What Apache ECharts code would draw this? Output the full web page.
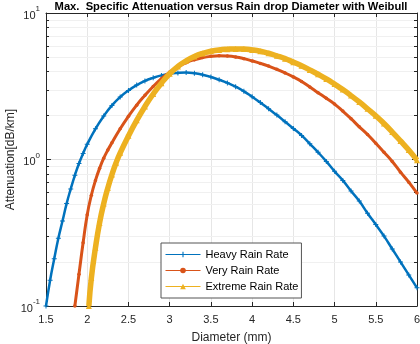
<!DOCTYPE html>
<html>
<head>
<meta charset="utf-8">
<script src="https://cdn.jsdelivr.net/npm/echarts@6/dist/echarts.min.js"></script>
<style>
  html, body { margin: 0; padding: 0; background: #fff; }
  #container { width: 420px; height: 344px; }
</style>
</head>
<body>
<div id="container"></div>
<script>
// diameters (mm) and attenuation (dB/km)
const dHeavy = [1.5, 1.55, 1.6, 1.65, 1.7, 1.75, 1.8, 1.85, 1.9, 1.95, 2.0,
  2.1, 2.2, 2.3, 2.4, 2.5, 2.6, 2.7, 2.8, 2.9, 3.0, 3.1, 3.2, 3.3, 3.4, 3.5,
  3.6, 3.7, 3.8, 3.9, 4.0, 4.1, 4.2, 4.3, 4.4, 4.5, 4.6, 4.7, 4.8, 4.9, 5.0,
  5.1, 5.2, 5.3, 5.4, 5.5, 5.6, 5.7, 5.8, 5.9, 6.0];
const heavyRain = [0.10, 0.15, 0.21, 0.29, 0.38, 0.50, 0.63, 0.78, 0.94, 1.10, 1.27,
  1.62, 1.98, 2.34, 2.67, 2.96, 3.22, 3.44, 3.61, 3.75, 3.85, 3.90, 3.92, 3.88, 3.79, 3.66,
  3.50, 3.33, 3.14, 2.92, 2.68, 2.45, 2.22, 2.01, 1.81, 1.63, 1.46, 1.28, 1.12, 0.97, 0.83,
  0.72, 0.61, 0.52, 0.43, 0.36, 0.30, 0.245, 0.20, 0.163, 0.133];

const dVery = [1.85, 1.9, 1.95, 2.0, 2.05, 2.1, 2.15, 2.2, 2.25, 2.3,
  2.4, 2.5, 2.6, 2.7, 2.8, 2.9, 3.0, 3.1, 3.2, 3.3, 3.4, 3.5,
  3.6, 3.7, 3.8, 3.9, 4.0, 4.1, 4.2, 4.3, 4.4, 4.5, 4.6, 4.7, 4.8, 4.9, 5.0,
  5.1, 5.2, 5.3, 5.4, 5.5, 5.6, 5.7, 5.8, 5.9, 6.0];
const veryRain = [0.10, 0.165, 0.27, 0.42, 0.57, 0.72, 0.87, 1.02, 1.16, 1.30,
  1.62, 1.97, 2.35, 2.74, 3.15, 3.56, 3.95, 4.28, 4.58, 4.80, 4.96, 5.06,
  5.10, 5.08, 5.01, 4.88, 4.71, 4.53, 4.34, 4.13, 3.90, 3.66, 3.41, 3.13, 2.86, 2.62, 2.39,
  2.14, 1.90, 1.67, 1.48, 1.29, 1.12, 0.97, 0.82, 0.70, 0.59];

const dExtreme = [2.02, 2.05, 2.1, 2.15, 2.2, 2.25, 2.3, 2.35,
  2.4, 2.5, 2.6, 2.7, 2.8, 2.9, 3.0, 3.1, 3.2, 3.3, 3.4, 3.5,
  3.6, 3.7, 3.8, 3.9, 4.0, 4.1, 4.2, 4.3, 4.4, 4.5, 4.6, 4.7, 4.8, 4.9, 5.0,
  5.1, 5.2, 5.3, 5.4, 5.5, 5.6, 5.7, 5.8, 5.9, 6.0];
const extremeRain = [0.10, 0.155, 0.25, 0.37, 0.50, 0.64, 0.79, 0.95,
  1.11, 1.45, 1.85, 2.30, 2.80, 3.32, 3.85, 4.32, 4.72, 5.05, 5.30, 5.48,
  5.60, 5.66, 5.69, 5.68, 5.60, 5.48, 5.31, 5.10, 4.88, 4.62, 4.36, 4.09, 3.82, 3.55, 3.27,
  3.00, 2.73, 2.47, 2.22, 1.99, 1.76, 1.54, 1.34, 1.16, 0.99];

const seriesNames = ["Heavy Rain Rate", "Very Rain Rate", "Extreme Rain Rate"];
const minorTicks = [0.2, 0.3, 0.4, 0.5, 0.6, 0.7, 0.8, 0.9, 2, 3, 4, 5, 6, 7, 8, 9];

const xMin = 1.5, xMax = 6;
const font = "Liberation Sans, Arial, sans-serif";
const axisColor = "#262626";

const pairs = (xs, ys) => xs.map((x, i) => [x, ys[i]]);

let dom = document.getElementById("container");
let myChart = echarts.init(dom, null, { renderer: "canvas" });

const expLabel = (v) => "{b|10}{s|" + Math.round(Math.log10(v)) + "}";
const expRich = {
  b: { fontSize: 11, fontFamily: font, color: axisColor, lineHeight: 16, verticalAlign: "bottom" },
  s: { fontSize: 8, fontFamily: font, color: axisColor, lineHeight: 16, verticalAlign: "top", padding: [0, 0, 6, 0] },
};

let option = {
  animation: false,
  backgroundColor: "#fff",
  title: {
    text: "Max.  Specific Attenuation versus Rain drop Diameter with Weibull",
    left: 231,
    textAlign: "center",
    top: 0,
    padding: [1, 0, 0, 0],
    textStyle: { fontFamily: font, fontSize: 11.2, fontWeight: "bold", color: "#000" },
  },
  legend: {
    data: seriesNames,
    orient: "vertical",
    left: 161,
    top: 243,
    itemWidth: 35,
    itemHeight: 7,
    itemGap: 5,
    padding: [6, 3, 6, 4],
    backgroundColor: "#fff",
    borderColor: "#555",
    borderWidth: 1,
    borderRadius: 0,
    textStyle: { fontFamily: font, fontSize: 11, color: "#000", lineHeight: 11 },
    lineStyle: { width: 1 },
  },
  grid: { left: 46, right: 3, top: 13, bottom: 38, containLabel: false, outerBoundsMode: "none" },
  xAxis: [
    {
      type: "value",
      min: xMin,
      max: xMax,
      interval: 0.5,
      name: "Diameter (mm)",
      nameLocation: "middle",
      nameGap: 26,
      nameMoveOverlap: false,
      nameTextStyle: { fontFamily: font, fontSize: 12, color: axisColor },
      axisLine: { lineStyle: { color: axisColor } },
      axisTick: { inside: true, length: 4, lineStyle: { color: axisColor } },
      axisLabel: { fontFamily: font, fontSize: 11, color: axisColor, margin: 8 },
      splitLine: { show: true, lineStyle: { color: "#e6e6e6" } },
    },
    {
      type: "value",
      position: "top",
      min: xMin,
      max: xMax,
      interval: 0.5,
      axisLine: { lineStyle: { color: axisColor } },
      axisTick: { inside: true, length: 4, lineStyle: { color: axisColor } },
      axisLabel: { show: false },
      splitLine: { show: false },
    },
  ],
  yAxis: [
    {
      type: "log",
      logBase: 10,
      min: 0.1,
      max: 10,
      name: "Attenuation[dB/km]",
      nameLocation: "middle",
      nameGap: 29,
      nameMoveOverlap: false,
      nameTextStyle: { fontFamily: font, fontSize: 12, color: axisColor },
      axisLine: { show: true, lineStyle: { color: axisColor } },
      axisTick: { inside: true, length: 5, lineStyle: { color: axisColor } },
      axisLabel: { formatter: expLabel, rich: expRich, margin: 6 },
      splitLine: { show: true, lineStyle: { color: "#e0e0e0" } },
    },
    {
      type: "log",
      logBase: 10,
      min: 0.1,
      max: 10,
      position: "right",
      axisLine: { show: true, lineStyle: { color: axisColor } },
      axisTick: { inside: true, length: 5, lineStyle: { color: axisColor } },
      axisLabel: { show: false },
      splitLine: { show: false },
    },
  ],
  series: [
    {
      // minor grid lines and minor ticks of the log axis
      type: "custom",
      silent: true,
      z: 1,
      data: minorTicks.map((v) => [xMin, v]),
      renderItem: (params, api) => {
        const cs = params.coordSys;
        const y = Math.round(api.coord([xMin, api.value(1)])[1]) + 0.5;
        const x0 = cs.x, x1 = cs.x + cs.width;
        return {
          type: "group",
          children: [
            { type: "line", shape: { x1: x0, y1: y, x2: x1, y2: y }, style: { stroke: "#f0f0f0", lineWidth: 1 } },
            { type: "line", shape: { x1: x0, y1: y, x2: x0 + 3, y2: y }, style: { stroke: axisColor, lineWidth: 1 } },
            { type: "line", shape: { x1: x1 - 3, y1: y, x2: x1, y2: y }, style: { stroke: axisColor, lineWidth: 1 } },
          ],
        };
      },
    },
    {
      name: seriesNames[0],
      type: "line",
      data: pairs(dHeavy, heavyRain),
      smooth: true,
      showAllSymbol: true,
      symbol: "path://M4,0H6V4H10V6H6V10H4V6H0V4H4Z",
      symbolSize: 5,
      color: "#0072BD",
      lineStyle: { width: 2.5 },
      z: 3,
    },
    {
      name: seriesNames[1],
      type: "line",
      data: pairs(dVery, veryRain),
      smooth: true,
      showAllSymbol: true,
      symbol: "circle",
      symbolSize: 3.5,
      color: "#D95319",
      lineStyle: { width: 3 },
      z: 4,
    },
    {
      name: seriesNames[2],
      type: "line",
      data: pairs(dExtreme, extremeRain),
      smooth: true,
      showAllSymbol: true,
      symbol: "triangle",
      symbolSize: 6,
      color: "#EDB120",
      lineStyle: { width: 5.5 },
      z: 5,
    },
  ],
};

if (option && typeof option === "object") {
  myChart.setOption(option);
}

window.addEventListener("resize", myChart.resize);
</script>
</body>
</html>
